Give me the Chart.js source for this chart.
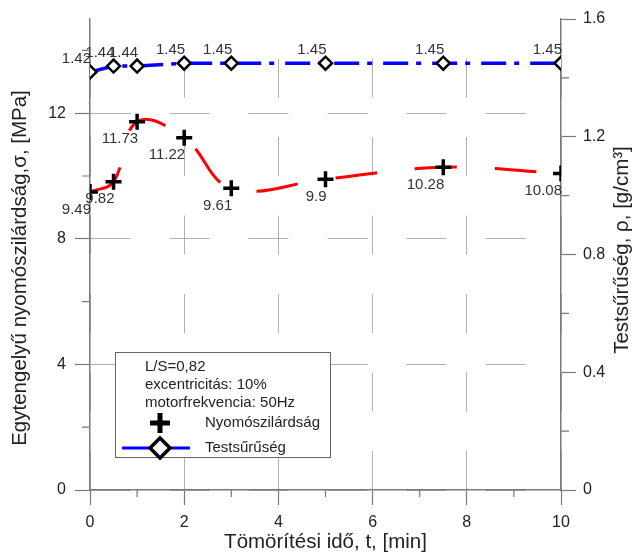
<!DOCTYPE html>
<html>
<head>
<meta charset="utf-8">
<script src="https://cdn.jsdelivr.net/npm/chart.js@4"></script>
<style>
  body { margin: 0; background: #fff; }
</style>
</head>
<body>
<canvas id="chart" width="635" height="553"></canvas>
<script>
// compaction time, min
const times = [0, 0.5, 1, 2, 3, 5, 7.5, 10];
// uniaxial compressive strength, MPa
const strength = [9.49, 9.82, 11.73, 11.22, 9.61, 9.9, 10.28, 10.08];
// body density, g/cm3
const density = [1.42, 1.44, 1.44, 1.45, 1.45, 1.45, 1.45, 1.45];

const leftTicks = [0, 4, 8, 12];
const leftMinor = [2, 6, 10, 14];
const rightMinor = [0.2, 0.6, 1.0, 1.4];
const xMinor = [1, 3, 5, 7, 9];
const notes = ['L/S=0,82', 'excentricitás: 10%', 'motorfrekvencia: 50Hz'];

const FONT = '"Liberation Sans", Arial, sans-serif';
const AXIS = '#7a7a7a';
const GRID = '#b0b0b0';
const TEXT = '#222';

const decorations = {
  id: 'decorations',
  afterDatasetsDraw(chart) {
    const ctx = chart.ctx;
    ctx.save();
    ctx.font = '15px ' + FONT;
    ctx.fillStyle = '#333';
    ctx.textAlign = 'right';
    // strength labels under the points
    ctx.textBaseline = 'top';
    chart.getDatasetMeta(0).data.forEach((pt, i) => {
      ctx.fillText(String(strength[i]), pt.x + 1, pt.y + 10);
    });
    // density labels above the points
    ctx.textBaseline = 'bottom';
    chart.getDatasetMeta(1).data.forEach((pt, i) => {
      ctx.fillText(String(density[i]), pt.x + 1, pt.y - 6);
    });
    ctx.restore();
  },
  afterDraw(chart) {
    const ctx = chart.ctx;
    const area = chart.chartArea;
    const {x, y, y2} = chart.scales;
    ctx.save();

    // minor ticks
    ctx.strokeStyle = AXIS;
    ctx.lineWidth = 1.2;
    ctx.beginPath();
    xMinor.forEach(v => {
      const px = x.getPixelForValue(v);
      ctx.moveTo(px, area.bottom);
      ctx.lineTo(px, area.bottom + 7);
    });
    leftMinor.forEach(v => {
      const py = y.getPixelForValue(v);
      ctx.moveTo(area.left - 8, py);
      ctx.lineTo(area.left, py);
    });
    rightMinor.forEach(v => {
      const py = y2.getPixelForValue(v);
      ctx.moveTo(area.right, py);
      ctx.lineTo(area.right + 8, py);
    });
    ctx.stroke();

    // axis titles
    ctx.fillStyle = TEXT;
    ctx.font = '20.5px ' + FONT;
    ctx.textAlign = 'center';
    ctx.textBaseline = 'middle';
    ctx.fillText('Tömörítési idő, t, [min]', (area.left + area.right) / 2, 542);
    ctx.save();
    ctx.translate(20, 268);
    ctx.rotate(-Math.PI / 2);
    ctx.fillText('Egytengelyű nyomószilárdság,σ, [MPa]', 0, 0);
    ctx.restore();
    ctx.save();
    ctx.translate(622, 250);
    ctx.rotate(-Math.PI / 2);
    ctx.fillText('Testsűrűség, ρ, [g/cm³]', 0, 0);
    ctx.restore();

    // legend box
    ctx.fillStyle = '#fff';
    ctx.fillRect(115, 352, 215, 105);
    ctx.strokeStyle = '#666';
    ctx.lineWidth = 1;
    ctx.strokeRect(115.5, 352.5, 215, 105);
    ctx.fillStyle = TEXT;
    ctx.font = '15px ' + FONT;
    ctx.textAlign = 'left';
    ctx.textBaseline = 'middle';
    notes.forEach((t, i) => ctx.fillText(t, 145, 367 + i * 18));
    ctx.fillText(chart.data.datasets[0].label, 205, 423);
    ctx.fillText(chart.data.datasets[1].label, 205, 448);
    // plus symbol
    ctx.strokeStyle = '#000';
    ctx.lineWidth = 5;
    ctx.beginPath();
    ctx.moveTo(150, 423); ctx.lineTo(170, 423);
    ctx.moveTo(160, 413); ctx.lineTo(160, 433);
    ctx.stroke();
    // line + diamond symbol
    ctx.strokeStyle = '#0000ff';
    ctx.lineWidth = 3;
    ctx.beginPath();
    ctx.moveTo(122, 448); ctx.lineTo(190, 448);
    ctx.stroke();
    ctx.fillStyle = '#fff';
    ctx.strokeStyle = '#000';
    ctx.lineWidth = 3.5;
    ctx.beginPath();
    ctx.moveTo(160, 438); ctx.lineTo(170, 448); ctx.lineTo(160, 458); ctx.lineTo(150, 448);
    ctx.closePath();
    ctx.fill();
    ctx.stroke();
    ctx.restore();
  }
};

new Chart(document.getElementById('chart'), {
  type: 'line',
  data: {
    datasets: [{
      label: 'Nyomószilárdság',
      data: times.map((t, i) => ({x: t, y: strength[i]})),
      yAxisID: 'y',
      borderColor: '#ff0000',
      borderWidth: 3,
      borderDash: [42, 38],
      tension: 0.4,
      pointStyle: 'cross',
      pointRadius: 8,
      pointBorderColor: '#000',
      pointBorderWidth: 3.5
    }, {
      label: 'Testsűrűség',
      data: times.map((t, i) => ({x: t, y: density[i]})),
      yAxisID: 'y2',
      borderColor: '#0000ff',
      borderWidth: 3.5,
      borderDash: [25, 8, 5, 11],
      tension: 0,
      pointStyle: 'rectRot',
      pointRadius: 6.5,
      pointBackgroundColor: '#fff',
      pointBorderColor: '#000',
      pointBorderWidth: 2.5
    }]
  },
  options: {
    responsive: false,
    devicePixelRatio: 1,
    animation: false,
    layout: { padding: { top: 19, left: 0, right: 0, bottom: 0 } },
    plugins: { legend: { display: false }, tooltip: { enabled: false } },
    scales: {
      x: {
        type: 'linear',
        min: 0,
        max: 10,
        ticks: { stepSize: 2, color: TEXT, font: { family: FONT, size: 16 }, padding: 8 },
        grid: { color: GRID, lineWidth: 1, tickLength: 15, tickColor: AXIS, tickWidth: 1.2 },
        border: { color: AXIS, width: 1.5, dash: [39, 39.5], dashOffset: 39 },
        afterFit(s) { s.height = 63; }
      },
      y: {
        position: 'left',
        min: 0,
        max: 15,
        afterBuildTicks(s) { s.ticks = leftTicks.map(v => ({value: v})); },
        ticks: { color: TEXT, font: { family: FONT, size: 16 }, padding: 9 },
        grid: { color: GRID, lineWidth: 1, tickLength: 15, tickColor: AXIS, tickWidth: 1.2 },
        border: { color: AXIS, width: 1.5, dash: [40, 39] },
        afterFit(s) { s.width = 90; }
      },
      y2: {
        position: 'right',
        min: 0,
        max: 1.6,
        ticks: {
          stepSize: 0.4,
          color: TEXT,
          font: { family: FONT, size: 16 },
          padding: 7,
          callback: v => v === 0 ? '0' : v.toFixed(1)
        },
        grid: { drawOnChartArea: false, tickLength: 15, tickColor: AXIS, tickWidth: 1.2 },
        border: { color: AXIS, width: 1.5 },
        afterFit(s) { s.width = 74; }
      }
    }
  },
  plugins: [decorations]
});
</script>
</body>
</html>
